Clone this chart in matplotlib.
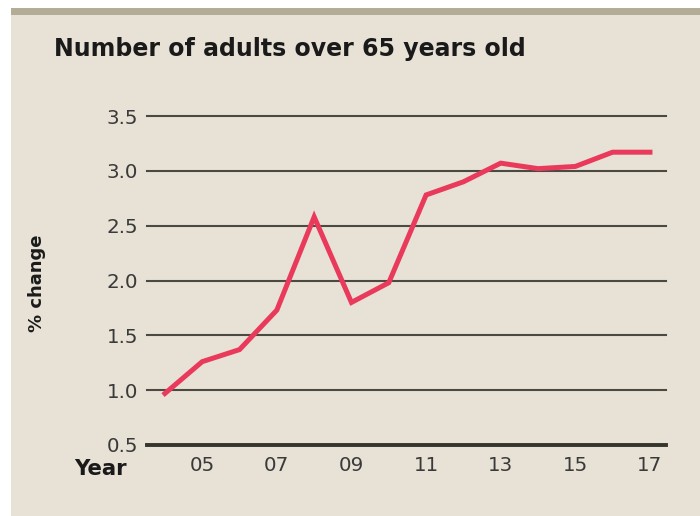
import matplotlib
matplotlib.use("Agg")
import matplotlib.pyplot as plt
from matplotlib.patches import Rectangle

years = [2004, 2005, 2006, 2007, 2008, 2009, 2010, 2011, 2012, 2013, 2014, 2015, 2016, 2017]
values = [0.97, 1.26, 1.37, 1.73, 2.58, 1.80, 1.98, 2.78, 2.90, 3.07, 3.02, 3.04, 3.17, 3.17]
xticks = [2005, 2007, 2009, 2011, 2013, 2015, 2017]
xticklabels = ["05", "07", "09", "11", "13", "15", "17"]
yticks = [0.5, 1.0, 1.5, 2.0, 2.5, 3.0, 3.5]
yticklabels = ["0.5", "1.0", "1.5", "2.0", "2.5", "3.0", "3.5"]

W, H = 700, 516
bg = "#e8e2d6"
fig = plt.figure(figsize=(W / 100, H / 100), dpi=100, facecolor="white")

# beige panel and top border
fig.patches.append(Rectangle((11 / W, 0), 1 - 11 / W, 1 - 8 / H, transform=fig.transFigure,
                             facecolor=bg, edgecolor="none", zorder=-2))
fig.patches.append(Rectangle((11 / W, 1 - 15 / H), 1 - 11 / W, 7 / H, transform=fig.transFigure,
                             facecolor="#b3ad97", edgecolor="none", zorder=-1))

left, right = 147, 666
top, bottom = 116, 445
ax = fig.add_axes([left / W, 1 - bottom / H, (right - left) / W, (bottom - top) / H])
ax.set_zorder(5)
ax.set_facecolor("none")
ax.set_xlim(2003.52, 2017.43)
ax.set_ylim(0.5, 3.5)

for s in ax.spines.values():
    s.set_visible(False)

for y in yticks:
    lw = 2.8 if y == 0.5 else 1.5
    col = "#35352e" if y == 0.5 else "#4a4a42"
    ax.axhline(y, color=col, lw=lw, zorder=1, clip_on=False)

ax.plot(years, values, color="#ea3a5c", lw=3.6, solid_joinstyle="miter", zorder=3, clip_on=False)

fam = ["DejaVu Sans"]
ax.set_yticks(yticks)
ax.set_yticklabels(yticklabels, fontsize=14.3, color="#3a3a3a", family=fam)
ax.set_xticks(xticks)
ax.set_xticklabels(xticklabels, fontsize=14.3, color="#3a3a3a", family=fam)
ax.tick_params(axis="both", length=0)
ax.tick_params(axis="y", pad=6.5)
ax.tick_params(axis="x", pad=8)

fig.text(54 / W, 1 - 56 / H, "Number of adults over 65 years old", fontsize=17,
         fontweight="bold", family=fam, color="#1a1a1a", ha="left", va="baseline")
fig.text(37 / W, 1 - 283 / H, "% change", fontsize=13, fontweight="bold", family=fam,
         color="#1a1a1a", rotation=90, ha="center", va="center")
fig.text(100 / W, 1 - 469 / H, "Year", fontsize=15.3, fontweight="bold", family=fam,
         color="#1a1a1a", ha="center", va="center")

fig.savefig("out.png", dpi=100, facecolor=fig.get_facecolor())
